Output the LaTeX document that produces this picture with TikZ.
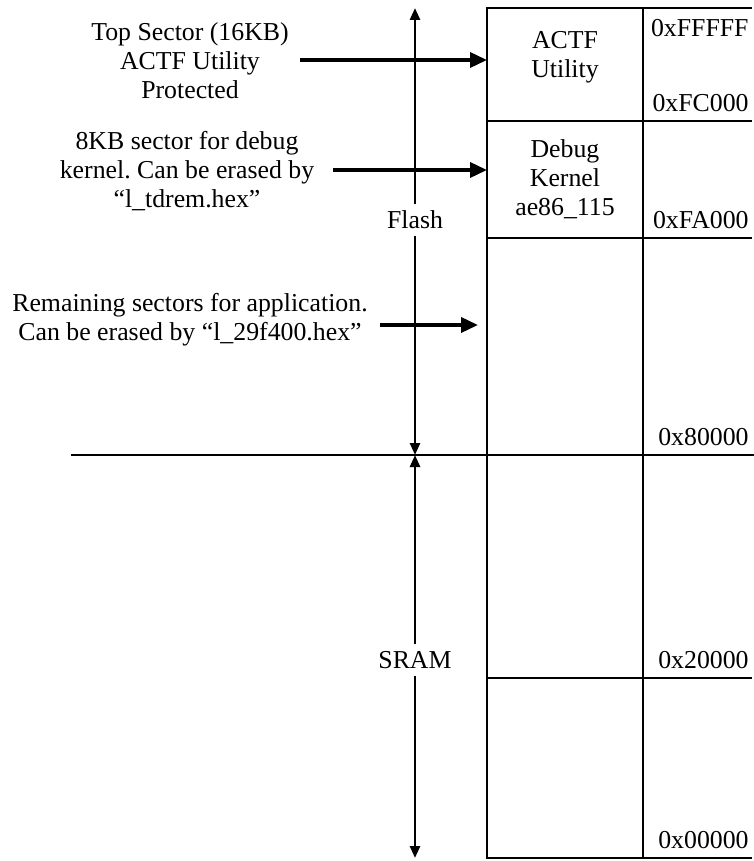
\documentclass[tikz,border=0pt]{standalone}
\usepackage{fontspec}
\setmainfont{Liberation Serif}
\usetikzlibrary{positioning, arrows.meta, calc}
\frenchspacing

\begin{document}
\begin{tikzpicture}[x=0.5pt, y=-0.5pt,
    every node/.style={font=\fontsize{12.9}{14.5}\selectfont},
    cell/.style={draw, line width=1.3pt, minimum width=78pt, inner sep=0, outer sep=0},
    rule/.style={line width=1.3pt},
    addr/.style={anchor=east, inner sep=0},
    note/.style={align=center, inner sep=0},
    pointer/.style={line width=1.8pt, -{Triangle[length=8.5pt, width=7.5pt]}},
    axis/.style={line width=1.3pt, -{Triangle[length=6pt, width=5pt]}}]
    \useasboundingbox (0,0) rectangle (754,861);

    % memory column
    \node[cell, minimum height=56.5pt, anchor=north west] (actf) at (487,8) {};
    \node[cell, minimum height=58.5pt, below=0pt of actf] (debug) {};
    \node[cell, minimum height=108.5pt, below=0pt of debug] (app) {};
    \node[cell, minimum height=111.5pt, below=0pt of app] (sramhi) {};
    \node[cell, minimum height=90pt, below=0pt of sramhi] (sramlo) {};

    \node[note] at ([yshift=3.5pt]actf.center) {ACTF\\Utility};
    \node[note] at (debug.center) {Debug\\Kernel\\ae86\_115};

    % address column
    \draw[rule] (actf.north east) -- (actf.north east -| 752,0);
    \foreach \c in {actf, debug, app, sramhi, sramlo}
        \draw[rule] (\c.south east) -- (\c.south east -| 752,0);

    \node[addr] (aFFFFF) at (749,28) {0xFFFFF};
    \node[addr] (aFC000) at (749,103) {0xFC000};
    \node[addr] (aFA000) at (749,220) {0xFA000};
    \node[addr] (a80000) at (749,437) {0x80000};
    \node[addr] (a20000) at (749,660) {0x20000};
    \node[addr] (a00000) at (749,840) {0x00000};

    % flash / sram boundary
    \coordinate (divL) at (71,455);
    \draw[line width=1pt] (divL) -- (divL -| 754,0);

    % vertical extent arrows
    \coordinate (ftop) at (415,8);
    \coordinate (split) at (415,455);
    \coordinate (sbot) at (415,858);
    \node (flash) at (415,220) {Flash};
    \node (sram) at (415,660) {SRAM};
    \draw[axis] (flash) -- (ftop);
    \draw[axis] (flash) -- (split);
    \draw[axis] (sram) -- (split);
    \draw[axis] (sram) -- (sbot);

    % notes
    \node[note] (topnote) at (190,61) {Top Sector (16KB)\\ACTF Utility\\Protected};
    \node[note] (debugnote) at (187,171) {8KB sector for debug\\kernel. Can be erased by\\“l\_tdrem.hex”};
    \node[note] (appnote) at (190,320) {Remaining sectors for application.\\Can be erased by “l\_29f400.hex”};

    \coordinate (p1) at (300,60);
    \coordinate (p2) at (333,170);
    \coordinate (p3) at (380,325);
    \draw[pointer] (p1) -- (p1 -| actf.west);
    \draw[pointer] (p2) -- (p2 -| debug.west);
    \draw[pointer] (p3) -- ([xshift=-4.5pt]p3 -| app.west);
\end{tikzpicture}
\end{document}
